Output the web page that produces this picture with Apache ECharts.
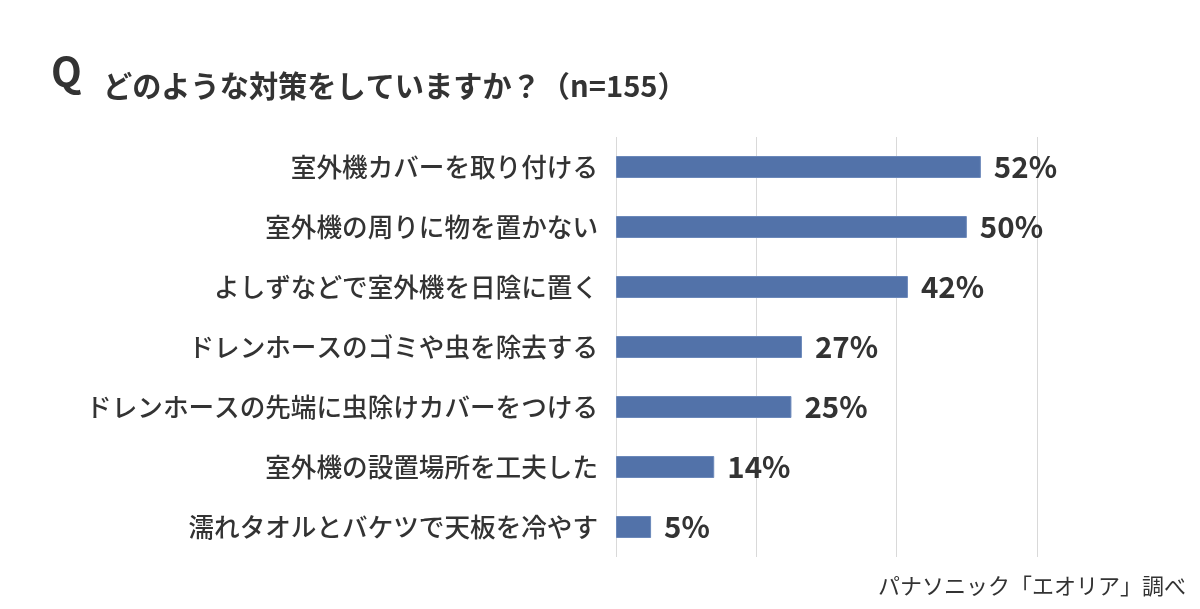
<!DOCTYPE html>
<html>
<head>
<meta charset="utf-8">
<script src="https://cdn.jsdelivr.net/npm/echarts@6/dist/echarts.min.js"></script>
<style>
  html, body { margin: 0; padding: 0; background: #fff; }
  #chart { width: 1200px; height: 609px; }
</style>
</head>
<body>
<div id="chart"></div>
<script>
// 回答項目（上から順）
const categories = [
    '室外機カバーを取り付ける',
    '室外機の周りに物を置かない',
    'よしずなどで室外機を日陰に置く',
    'ドレンホースのゴミや虫を除去する',
    'ドレンホースの先端に虫除けカバーをつける',
    '室外機の設置場所を工夫した',
    '濡れタオルとバケツで天板を冷やす'
];
// 回答率（%）— 棒の長さから読んだ値、ラベルは四捨五入
const values = [52, 50, 41.6, 26.5, 25, 14, 5];
// 目盛り
const axisMin = 0;
const axisMax = 60;
const axisStep = 20;

const fontJP = '"Noto Sans CJK JP", "Noto Sans", sans-serif';

const myChart = echarts.init(document.getElementById('chart'));

const option = {
    backgroundColor: '#ffffff',
    title: [
        {
            text: 'Q',
            left: 51,
            top: 52,
            padding: 0,
            textStyle: {
                fontFamily: fontJP,
                fontSize: 40,
                lineHeight: 40,
                fontWeight: 'bold',
                color: '#333333'
            }
        },
        {
            text: 'どのような対策をしていますか？（n=155）',
            left: 103,
            top: 71,
            padding: 0,
            textStyle: {
                fontFamily: fontJP,
                fontSize: 29.2,
                lineHeight: 29.2,
                fontWeight: 'bold',
                color: '#333333'
            }
        },
        {
            text: 'パナソニック「エオリア」調べ',
            right: 14,
            top: 575,
            padding: 0,
            textStyle: {
                fontFamily: fontJP,
                fontSize: 22,
                lineHeight: 22,
                fontWeight: 'normal',
                color: '#333333'
            }
        }
    ],
    grid: {
        left: 616,
        right: 163,
        top: 137,
        bottom: 52,
        containLabel: false
    },
    xAxis: {
        type: 'value',
        min: axisMin,
        max: axisMax,
        interval: axisStep,
        axisLine: { show: false },
        axisTick: { show: false },
        axisLabel: { show: false },
        splitLine: {
            show: true,
            lineStyle: { color: '#d9d9d9', width: 1 }
        }
    },
    yAxis: {
        type: 'category',
        data: categories,
        inverse: true,
        axisLine: { show: false },
        axisTick: { show: false },
        axisLabel: {
            margin: 18,
            fontFamily: fontJP,
            fontSize: 25.6,
            fontWeight: 500,
            color: '#333333'
        }
    },
    series: [
        {
            type: 'bar',
            data: values,
            barWidth: 22,
            silent: true,
            itemStyle: {
                color: '#5272a9',
                borderColor: '#6b88ba',
                borderWidth: 1
            },
            label: {
                show: true,
                position: 'right',
                distance: 13,
                formatter: function (p) {
                    return Math.round(p.value) + '%';
                },
                fontFamily: fontJP,
                fontSize: 29.5,
                fontWeight: 'bold',
                color: '#333333'
            }
        }
    ]
};

// 渲染
myChart.setOption(option);
</script>
</body>
</html>
